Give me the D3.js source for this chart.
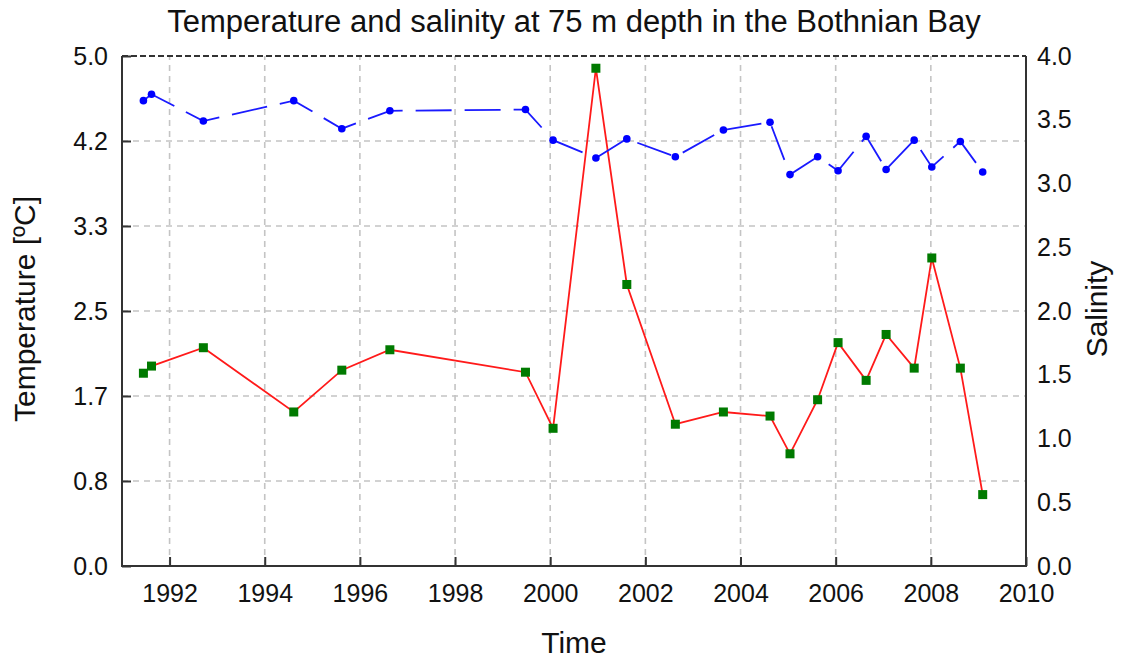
<!DOCTYPE html>
<html>
<head>
<meta charset="utf-8">
<script src="https://d3js.org/d3.v7.min.js"></script>
<style>
  body { margin: 0; background: #fff; }
  svg text { font-family: "Liberation Sans", Arial, sans-serif; fill: #111; }
</style>
</head>
<body>
<div id="chart-area"></div>
<script>
// sampling dates (decimal years)
var years = [1991.45, 1991.62, 1992.71, 1994.61, 1995.62, 1996.63, 1999.48, 2000.06,
  2000.96, 2001.61, 2002.63, 2003.64, 2004.62, 2005.04, 2005.62, 2006.05,
  2006.64, 2007.06, 2007.65, 2008.02, 2008.62, 2009.09];
// temperature, left axis
var temperature = [1.89, 1.96, 2.14, 1.51, 1.92, 2.12, 1.90, 1.35,
  4.88, 2.76, 1.39, 1.51, 1.47, 1.10, 1.63, 2.19,
  1.82, 2.27, 1.94, 3.02, 1.94, 0.70];
// salinity, right axis
var salinity = [3.65, 3.70, 3.49, 3.65, 3.43, 3.57, 3.58, 3.34,
  3.20, 3.35, 3.21, 3.42, 3.48, 3.07, 3.21, 3.10,
  3.37, 3.11, 3.34, 3.13, 3.33, 3.09];

var xTicks = [1992, 1994, 1996, 1998, 2000, 2002, 2004, 2006, 2008, 2010];
var tempTicks = [0, 5/6, 10/6, 2.5, 20/6, 25/6, 5];
var salTicks = [0, 0.5, 1, 1.5, 2, 2.5, 3, 3.5, 4];

var W = 1121, H = 661;
var plotL = 122, plotR = 1026, plotT = 56, plotB = 566;

var svg = d3.select("#chart-area")
  .append("svg")
  .attr("width", W)
  .attr("height", H);

var x = d3.scaleLinear().domain([1991, 2010]).range([plotL, plotR]);
var yT = d3.scaleLinear().domain([0, 5]).range([plotB, plotT]);
var yS = d3.scaleLinear().domain([0, 4]).range([plotB, plotT]);

// grid
var grid = svg.append("g")
  .attr("stroke", "#c4c4c4")
  .attr("stroke-width", 1.6)
  .attr("stroke-dasharray", "6,5");
grid.selectAll("line.v")
  .data(xTicks.filter(function(d) { return d < 2010; }))
  .enter().append("line")
  .attr("class", "v")
  .attr("x1", function(d) { return x(d); })
  .attr("x2", function(d) { return x(d); })
  .attr("y1", plotB)
  .attr("y2", plotT);
grid.selectAll("line.h")
  .data(tempTicks.filter(function(d) { return d > 0 && d < 5; }))
  .enter().append("line")
  .attr("class", "h")
  .attr("x1", plotL)
  .attr("x2", plotR)
  .attr("y1", function(d) { return yT(d); })
  .attr("y2", function(d) { return yT(d); });

// axes
var xAxis = d3.axisBottom(x).tickValues(xTicks).tickFormat(d3.format("d"))
  .tickSizeInner(-9).tickSizeOuter(0).tickPadding(18);
var yAxisL = d3.axisLeft(yT).tickValues(tempTicks).tickFormat(d3.format(".1f"))
  .tickSizeInner(-9).tickSizeOuter(0).tickPadding(14);
var yAxisR = d3.axisRight(yS).tickValues(salTicks).tickFormat(d3.format(".1f"))
  .tickSize(0).tickPadding(11);

function styleAxis(g) {
  g.select(".domain").remove();
  g.selectAll(".tick line").attr("stroke", "#333").attr("stroke-width", 2);
  g.selectAll(".tick text").attr("font-size", 25).attr("fill", "#111")
    .attr("font-family", '"Liberation Sans", Arial, sans-serif');
}

svg.append("g")
  .attr("transform", "translate(0," + plotB + ")")
  .call(xAxis).call(styleAxis);
svg.append("g")
  .attr("transform", "translate(" + plotL + ",0)")
  .call(yAxisL).call(styleAxis);
svg.append("g")
  .attr("transform", "translate(" + plotR + ",0)")
  .call(yAxisR).call(styleAxis);

// frame
svg.append("line").attr("x1", plotL).attr("x2", plotR).attr("y1", plotT).attr("y2", plotT)
  .attr("stroke", "#333").attr("stroke-width", 2).attr("stroke-dasharray", "6,3");
svg.append("path")
  .attr("d", "M" + plotL + "," + plotT + "V" + plotB + "H" + plotR + "V" + plotT)
  .attr("fill", "none")
  .attr("stroke", "#333")
  .attr("stroke-width", 2);

// lines
var tempLine = d3.line()
  .x(function(d, i) { return x(years[i]); })
  .y(function(d) { return yT(d); });
var salLine = d3.line()
  .x(function(d, i) { return x(years[i]); })
  .y(function(d) { return yS(d); });

svg.append("path")
  .datum(temperature)
  .attr("d", tempLine)
  .attr("fill", "none")
  .attr("stroke", "#ff1a1a")
  .attr("stroke-width", 1.8);

svg.append("path")
  .datum(salinity)
  .attr("d", salLine)
  .attr("fill", "none")
  .attr("stroke", "#1a1aff")
  .attr("stroke-width", 1.8)
  .attr("stroke-dasharray", "36,13");

// markers
svg.selectAll("rect.temp")
  .data(temperature)
  .enter().append("rect")
  .attr("class", "temp")
  .attr("x", function(d, i) { return x(years[i]) - 4.5; })
  .attr("y", function(d) { return yT(d) - 4.5; })
  .attr("width", 9)
  .attr("height", 9)
  .attr("fill", "#007a00");

svg.selectAll("circle.sal")
  .data(salinity)
  .enter().append("circle")
  .attr("class", "sal")
  .attr("cx", function(d, i) { return x(years[i]); })
  .attr("cy", function(d) { return yS(d); })
  .attr("r", 3.8)
  .attr("fill", "#0000ff");

// titles
svg.append("text")
  .attr("x", (plotL + plotR) / 2)
  .attr("y", 32)
  .attr("text-anchor", "middle")
  .attr("font-size", 31)
  .text("Temperature and salinity at 75 m depth in the Bothnian Bay");

svg.append("text")
  .attr("x", (plotL + plotR) / 2)
  .attr("y", 653)
  .attr("text-anchor", "middle")
  .attr("font-size", 30)
  .text("Time");

svg.append("text")
  .attr("transform", "translate(35," + ((plotT + plotB) / 2 - 2) + ") rotate(-90)")
  .attr("text-anchor", "middle")
  .attr("font-size", 30)
  .text("Temperature [ºC]");

svg.append("text")
  .attr("transform", "translate(1107," + ((plotT + plotB) / 2 - 2) + ") rotate(-90)")
  .attr("text-anchor", "middle")
  .attr("font-size", 30)
  .text("Salinity");
</script>
</body>
</html>
